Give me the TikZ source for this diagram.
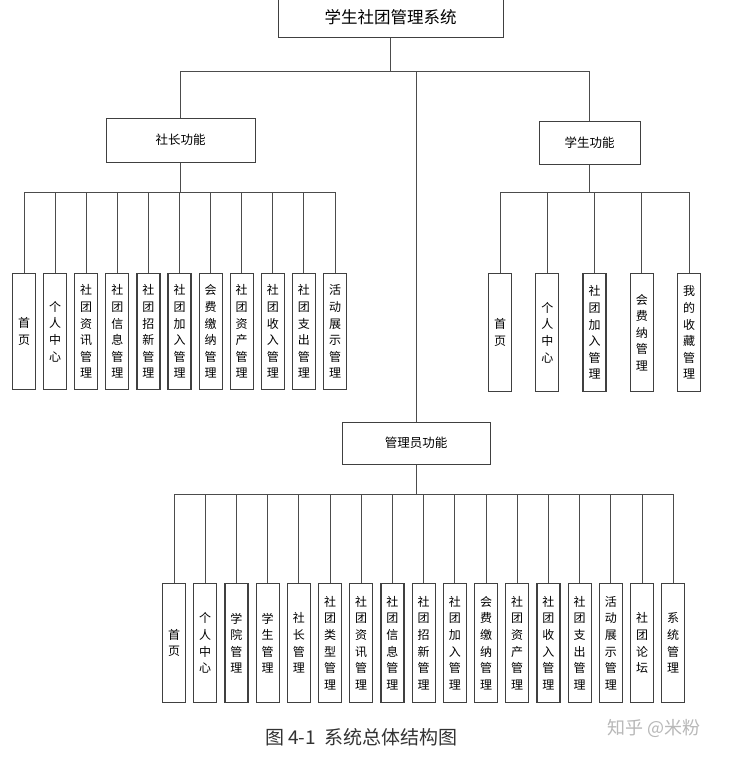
\documentclass[tikz,border=0pt]{standalone}
\usepackage{fontspec}
\setmainfont{Noto Sans CJK SC}
\newfontfamily\cjk{Noto Sans CJK SC}
\begin{document}
\begin{tikzpicture}[x=1pt,y=1pt,
  conn/.style={draw=black!70, line width=0.9pt},
  headbox/.style={draw=black!75, line width=1pt, rectangle, inner sep=0pt, font=\cjk\fontsize{12.5}{14}\selectfont},
  leafbox/.style={draw=black!75, line width=1.2pt, rectangle, inner sep=0pt, anchor=north,
     minimum width=23pt, align=center, font=\cjk\fontsize{12}{16.6}\selectfont},
  capt/.style={font=\cjk\fontsize{19}{21}\selectfont, text=black!80, inner sep=0pt, anchor=west},
  wm/.style={font=\cjk\fontsize{18}{20}\selectfont, text=black!28, inner sep=0pt, anchor=west}
]
\useasboundingbox (0,0) rectangle (746,-758);
\fill[white] (0,0) rectangle (746,-758);

% heads
\node[headbox, minimum width=225pt, minimum height=40pt, font=\cjk\fontsize{16.5}{18}\selectfont] (top) at (390.5,-17.5) {学生社团管理系统};
\node[headbox, minimum width=149pt, minimum height=44pt] (sz) at (180.5,-140) {社长功能};
\node[headbox, minimum width=101pt, minimum height=43pt] (xs) at (589.5,-142.5) {学生功能};
\node[headbox, minimum width=148pt, minimum height=42pt] (gl) at (416,-443) {管理员功能};

\coordinate (topbus) at (0,-71);
\coordinate (szbus) at (0,-192);
\coordinate (xsbus) at (0,-192);
\coordinate (glbus) at (0,-494);

% 社长 leaves
\foreach \t [count=\i] in {首\\页, 个\\人\\中\\心, 社\\团\\资\\讯\\管\\理, 社\\团\\信\\息\\管\\理, 社\\团\\招\\新\\管\\理, 社\\团\\加\\入\\管\\理, 会\\费\\缴\\纳\\管\\理, 社\\团\\资\\产\\管\\理, 社\\团\\收\\入\\管\\理, 社\\团\\支\\出\\管\\理, 活\\动\\展\\示\\管\\理}{
  \node[leafbox, minimum height=116pt] (s\i) at ({24+31.1*(\i-1)},-273) {\t};
  \draw[conn] (s\i.north) -- (s\i.north |- szbus);
}
% 学生 leaves
\foreach \t [count=\i] in {首\\页, 个\\人\\中\\心, 社\\团\\加\\入\\管\\理, 会\\费\\纳\\管\\理, 我\\的\\收\\藏\\管\\理}{
  \node[leafbox, minimum height=118pt] (x\i) at ({500+47.25*(\i-1)},-273) {\t};
  \draw[conn] (x\i.north) -- (x\i.north |- xsbus);
}
% 管理员 leaves
\foreach \t [count=\i] in {首\\页, 个\\人\\中\\心, 学\\院\\管\\理, 学\\生\\管\\理, 社\\长\\管\\理, 社\\团\\类\\型\\管\\理, 社\\团\\资\\讯\\管\\理, 社\\团\\信\\息\\管\\理, 社\\团\\招\\新\\管\\理, 社\\团\\加\\入\\管\\理, 会\\费\\缴\\纳\\管\\理, 社\\团\\资\\产\\管\\理, 社\\团\\收\\入\\管\\理, 社\\团\\支\\出\\管\\理, 活\\动\\展\\示\\管\\理, 社\\团\\论\\坛, 系\\统\\管\\理}{
  \node[leafbox, minimum height=119pt] (a\i) at ({174+31.2*(\i-1)},-583) {\t};
  \draw[conn] (a\i.north) -- (a\i.north |- glbus);
}

% connectors
\draw[conn] (top.south) -- (top.south |- topbus);
\draw[conn] (sz.north) |- (xs.north |- topbus) -- (xs.north);
\draw[conn] (gl.north) -- (gl.north |- topbus);
\draw[conn] (sz.south) -- (sz.south |- szbus);
\draw[conn] (s1.north |- szbus) -- (s11.north |- szbus);
\draw[conn] (xs.south) -- (xs.south |- xsbus);
\draw[conn] (x1.north |- xsbus) -- (x5.north |- xsbus);
\draw[conn] (gl.south) -- (gl.south |- glbus);
\draw[conn] (a1.north |- glbus) -- (a17.north |- glbus);

% caption and watermark
\node[capt] (cap) at (265,-737) {图 4-1\ \ 系统总体结构图};
\node[wm] (mark) at (607,-728) {知乎 @米粉};
\end{tikzpicture}
\end{document}
